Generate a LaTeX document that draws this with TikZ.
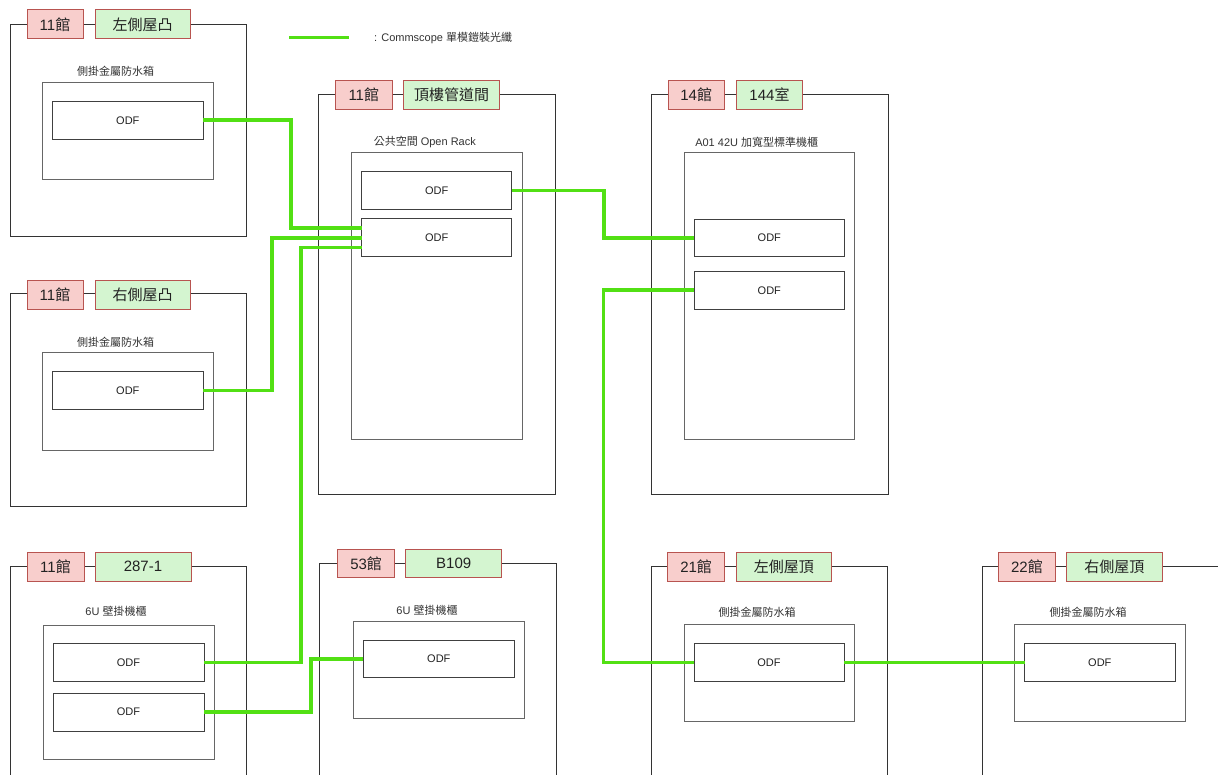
\documentclass[tikz,border=0pt]{standalone}
\usepackage{fontspec}
\setmainfont{Liberation Sans}
\newfontfamily\cjk{Noto Sans CJK TC}
\definecolor{redfill}{HTML}{F8CECC}
\definecolor{redline}{HTML}{B85450}
\definecolor{greenfill}{RGB}{212,245,208}
\definecolor{wiregreen}{RGB}{82,224,20}
\definecolor{txt}{HTML}{222222}
\definecolor{captxt}{HTML}{333333}
\newcommand\bx[7]{\node[#2, minimum width={(#5-#3)*1pt}, minimum height={(#6-#4)*1pt}] (#1) at ({(#3+#5)/2},{(#4+#6)/2}) {#7};}
\tikzset{
  base/.style={rectangle, inner sep=0pt, outer sep=0pt},
  outerbox/.style={base, draw=black!80, line width=1pt, fill=white},
  innerbox/.style={base, draw=black!60, line width=1pt},
  odfbox/.style={base, draw=black!75, line width=1pt, fill=white, text=txt, font=\fontsize{11}{13}\selectfont},
  bldg/.style={base, draw=redline, line width=1pt, fill=redfill, text=txt, font=\fontsize{15}{18}\selectfont},
  room/.style={base, draw=redline, line width=1pt, fill=greenfill, text=txt, font=\fontsize{15}{18}\selectfont},
  captext/.style={inner sep=0pt, text=captxt, font=\fontsize{11}{13}\selectfont},
  wire/.style={draw=wiregreen, line width=3.6pt, line join=miter, line cap=butt},
}
\begin{document}
\begin{tikzpicture}[x=1pt,y=-1pt]
\useasboundingbox (0,0) rectangle (1218,775);
\clip (0,0) rectangle (1218,775);
\fill[white] (0,0) rectangle (1218,775);

% legend
\coordinate (legA) at (289,37.7);
\coordinate (legB) at (349,37.7);
\draw[wire, line width=3pt] (legA) -- (legB);
\node[captext, anchor=west] (legT) at (374,37.5) {: Commscope {\cjk 單模鎧裝光纖}};

% Group A: 11館 左側屋凸
\bx{oA}{outerbox}{10}{25}{246}{237}{}
\bx{bA}{bldg}{27}{10}{83}{39}{11{\cjk 館}}
\bx{rA}{room}{95}{10}{190}{39}{\cjk 左側屋凸}
\node[captext] (cA) at (115.5,71) {\cjk 側掛金屬防水箱};
\bx{iA}{innerbox}{42.3}{83}{213.3}{179.7}{}
\bx{odfA}{odfbox}{52.7}{101.3}{203}{139.3}{ODF}

% Group D: 11館 右側屋凸
\bx{oD}{outerbox}{10}{294}{246}{506}{}
\bx{bD}{bldg}{27}{280.7}{83}{309.3}{11{\cjk 館}}
\bx{rD}{room}{95}{280.7}{190}{309.3}{\cjk 右側屋凸}
\node[captext] (cD) at (115.5,342) {\cjk 側掛金屬防水箱};
\bx{iD}{innerbox}{42.3}{353}{213.3}{450}{}
\bx{odfD}{odfbox}{52.7}{371.7}{203}{409.7}{ODF}

% Group B: 11館 頂樓管道間
\bx{oB}{outerbox}{318.5}{95}{555.3}{494}{}
\bx{bB}{bldg}{335.3}{80.3}{392.3}{109.3}{11{\cjk 館}}
\bx{rB}{room}{403.3}{80.3}{499.7}{109.3}{\cjk 頂樓管道間}
\node[captext] (cB) at (424.8,141.7) {{\cjk 公共空間} Open Rack};
\bx{iB}{innerbox}{351.7}{153}{522}{439}{}
\bx{odfB1}{odfbox}{361.7}{171.7}{511.7}{209.3}{ODF}
\bx{odfB2}{odfbox}{361.7}{219}{511.7}{257}{ODF}

% Group C: 14館 144室
\bx{oC}{outerbox}{651}{95}{888}{494}{}
\bx{bC}{bldg}{668}{80.7}{724.3}{109.3}{14{\cjk 館}}
\bx{rC}{room}{736.3}{80.7}{802.7}{109.3}{144{\cjk 室}}
\node[captext] (cC) at (756.7,142.3) {A01 42U {\cjk 加寬型標準機櫃}};
\bx{iC}{innerbox}{684}{153}{854.3}{439}{}
\bx{odfC1}{odfbox}{694}{219.3}{844.7}{257}{ODF}
\bx{odfC2}{odfbox}{694}{271.3}{844.7}{309.3}{ODF}

% Group E: 11館 287-1
\bx{oE}{outerbox}{10}{566}{246}{800}{}
\bx{bE}{bldg}{27}{552.3}{84}{581}{11{\cjk 館}}
\bx{rE}{room}{95}{552.3}{191}{581}{287-1}
\node[captext] (cE) at (116,611.7) {6U {\cjk 壁掛機櫃}};
\bx{iE}{innerbox}{43}{625}{214}{759.3}{}
\bx{odfE1}{odfbox}{53}{643.3}{204}{681.3}{ODF}
\bx{odfE2}{odfbox}{53}{693.3}{204}{731}{ODF}

% Group F: 53館 B109
\bx{oF}{outerbox}{319.5}{563.3}{556}{800}{}
\bx{bF}{bldg}{337.4}{549}{394.8}{577.7}{53{\cjk 館}}
\bx{rF}{room}{405.6}{549}{501.8}{577.7}{B109}
\node[captext] (cF) at (427,610) {6U {\cjk 壁掛機櫃}};
\bx{iF}{innerbox}{353.6}{621.7}{524.8}{718.3}{}
\bx{odfF}{odfbox}{363.3}{640}{514.4}{677.7}{ODF}

% Group G: 21館 左側屋頂
\bx{oG}{outerbox}{651}{566.7}{887}{800}{}
\bx{bG}{bldg}{667.6}{552.3}{724.6}{581}{21{\cjk 館}}
\bx{rG}{room}{736.3}{552.3}{831.2}{581}{\cjk 左側屋頂}
\node[captext] (cG) at (757,612.7) {\cjk 側掛金屬防水箱};
\bx{iG}{innerbox}{684}{624.7}{854}{721.7}{}
\bx{odfG}{odfbox}{694}{643.3}{844}{681.3}{ODF}

% Group H: 22館 右側屋頂
\bx{oH}{outerbox}{982}{566.7}{1221}{800}{}
\bx{bH}{bldg}{998.5}{552.3}{1055.4}{581}{22{\cjk 館}}
\bx{rH}{room}{1066.5}{552.3}{1162}{581}{\cjk 右側屋頂}
\node[captext] (cH) at (1088,612.7) {\cjk 側掛金屬防水箱};
\bx{iH}{innerbox}{1014}{624.7}{1185}{721.7}{}
\bx{odfH}{odfbox}{1024.6}{643.3}{1175}{681.3}{ODF}

% wires
\draw[wire] (odfA.east) -- ++(88,0) |- ([yshift=9.7pt]odfB2.west);
\draw[wire] (odfD.east) -- ++(69,0) |- (odfB2.west);
\draw[wire] (odfE1.east) -- ++(97,0) |- ([yshift=-9.7pt]odfB2.west);
\draw[wire] (odfE2.east) -- ++(107,0) |- (odfF.west);
\draw[wire] (odfB1.east) -- ++(92,0) |- (odfC1.west);
\draw[wire] (odfC2.west) -- ++(-90.5,0) |- (odfG.west);
\draw[wire] (odfG.east) -- (odfH.west);
\end{tikzpicture}
\end{document}
